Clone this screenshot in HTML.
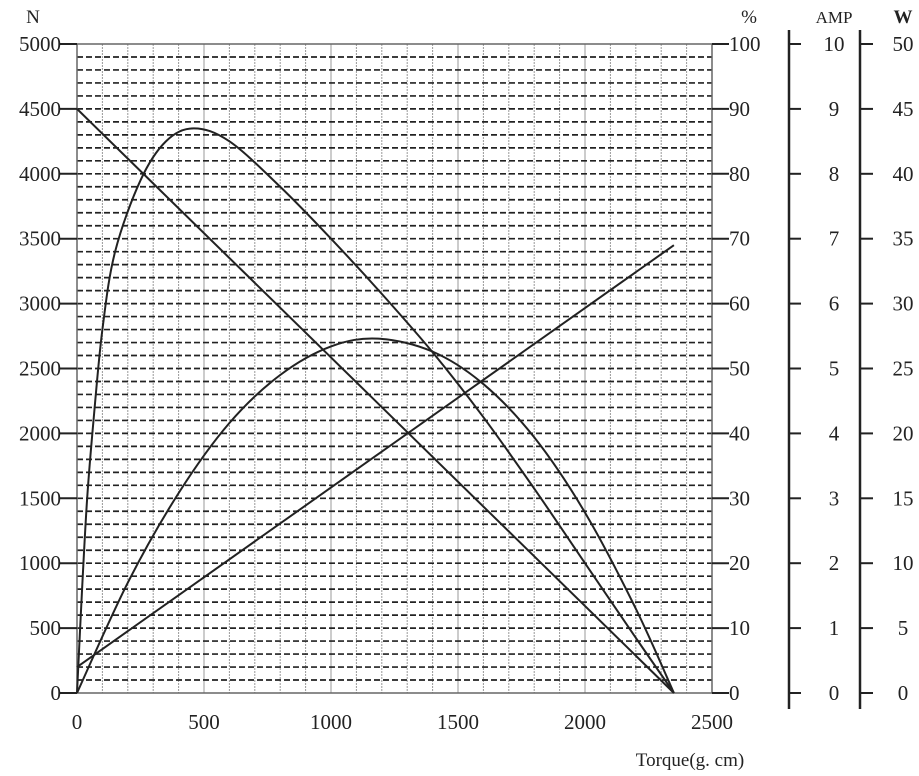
<!DOCTYPE html>
<html><head><meta charset="utf-8"><style>
body{margin:0;background:#fff}
svg{display:block;font-family:"Liberation Serif","Noto Serif CJK SC",serif}
</style></head><body>
<svg id="c" width="919" height="776"></svg>
<script>
const xTicks=[0,500,1000,1500,2000,2500];
const nTicks=[0,500,1000,1500,2000,2500,3000,3500,4000,4500,5000];
const pctTicks=[0,10,20,30,40,50,60,70,80,90,100];
const ampTicks=[0,1,2,3,4,5,6,7,8,9,10];
const wTicks=[0,5,10,15,20,25,30,35,40,45,50];
const speedT=[0,2350];
const speedN=[4500,0];
const currentT=[0,2350];
const currentA=[0.4,6.9];
const effT=[0,20,40,65,100,150,250,350,460,600,800,1000,1200,1400,1600,1800,2000,2200,2350];
const effPct=[0,16,30,42,56,68,79,85,87,85,78,70,61.5,52.5,42.5,31.5,20,8.5,0];
const powT=[0,200,400,600,800,1000,1185,1400,1600,1800,2000,2200,2350];
const powW=[0,8.5,15.4,20.8,24.5,26.7,27.3,26.3,23.8,19.7,13.9,6.5,0];

const NS='http://www.w3.org/2000/svg';
const svg=document.getElementById('c');
const X0=77,X1=712,Y0=693,Y1=44;
const xs=t=>X0+(X1-X0)*t/2500;
const ys=n=>Y0-(Y0-Y1)*n/5000;
function mk(tag,attrs,parent){const e=document.createElementNS(NS,tag);for(const k in attrs)e.setAttribute(k,attrs[k]);(parent||svg).appendChild(e);return e;}
function txt(s,x,y,anchor,extra){const e=mk('text',Object.assign({x:x,y:y,'text-anchor':anchor,'font-size':21,fill:'#222'},extra||{}));e.textContent=s;return e;}

for(let t=100;t<2500;t+=100){const l=mk('line',{x1:xs(t),x2:xs(t),y1:Y1,y2:Y0,stroke:'#999','stroke-width':1,'stroke-dasharray':t%500?'2,1':''});

}
for(let n=100;n<5000;n+=100){const l=mk('line',{x1:X0,x2:X1,y1:ys(n),y2:ys(n),stroke:'#222','stroke-width':1.7,'stroke-dasharray':'6,3'});

}
const fr=mk('rect',{x:X0,y:Y1,width:X1-X0,height:Y0-Y1,fill:'none',stroke:'#666','stroke-width':1.5});



nTicks.forEach(n=>{mk('line',{x1:60,x2:X0,y1:ys(n),y2:ys(n),stroke:'#222','stroke-width':2});
const t=txt(String(n),61,ys(n)+7,'end');

});
const hn=txt('N',33,23,'middle',{'font-size':19});
pctTicks.forEach(p=>{const y=ys(p*50);mk('line',{x1:X1,x2:729,y1:y,y2:y,stroke:'#222','stroke-width':2});
const t=txt(String(p),729,y+7,'start');

});
const hp=txt('%',749,23,'middle',{'font-size':19});
mk('line',{x1:789,x2:789,y1:30,y2:709,stroke:'#222','stroke-width':2.5});
ampTicks.forEach(a=>{const y=ys(a*500);mk('line',{x1:789,x2:801,y1:y,y2:y,stroke:'#222','stroke-width':2});
const t=txt(String(a),834,y+7,'middle');

});
const ha=txt('AMP',834,23,'middle',{'font-size':17});
mk('line',{x1:860,x2:860,y1:30,y2:709,stroke:'#222','stroke-width':2.5});
wTicks.forEach(w=>{const y=ys(w*100);mk('line',{x1:860,x2:873,y1:y,y2:y,stroke:'#222','stroke-width':2});
const t=txt(String(w),903,y+7,'middle');

});
const hw=txt('W',903,23,'middle',{'font-weight':'bold','font-size':19});
xTicks.forEach(t=>{const e=txt(String(t),xs(t),729,'middle');

});
const xt=txt('Torque(g. cm)',690,766,'middle',{'font-size':19});


function smooth(pts){let d='M'+pts[0][0]+','+pts[0][1];
for(let i=0;i<pts.length-1;i++){const p0=pts[i-1]||pts[i],p1=pts[i],p2=pts[i+1],p3=pts[i+2]||p2;
const c1=[p1[0]+(p2[0]-p0[0])/6,p1[1]+(p2[1]-p0[1])/6],c2=[p2[0]-(p3[0]-p1[0])/6,p2[1]-(p3[1]-p1[1])/6];
d+=' C'+c1+' '+c2+' '+p2;}return d;}
function series(T,V,scale,name){const pts=T.map((t,i)=>[xs(t),ys(V[i]*scale)]);
const p=mk('path',{d:smooth(pts),fill:'none',stroke:'#222','stroke-width':2});

}
series(speedT,speedN,1,'speed-line');
series(currentT,currentA,500,'current-line');
series(effT,effPct,50,'efficiency-curve');
series(powT,powW,100,'output-power-curve');
</script>
</body></html>
